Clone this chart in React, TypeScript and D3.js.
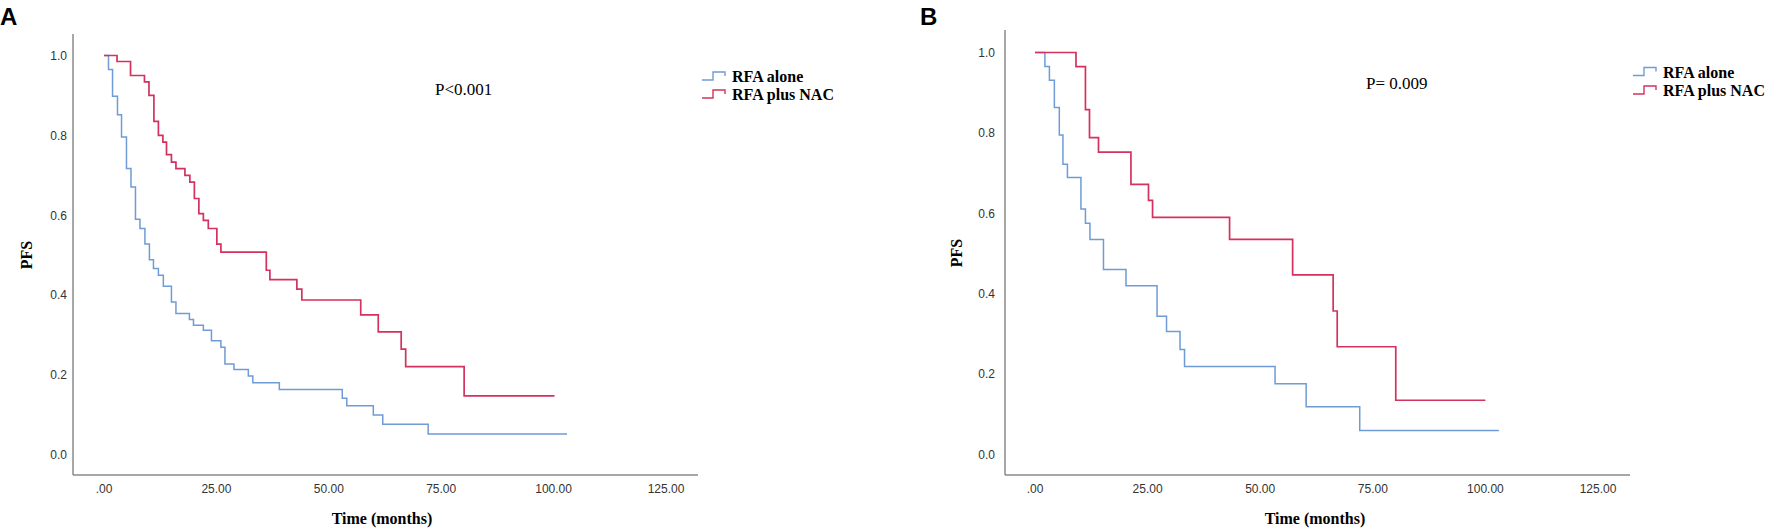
import React, { useEffect, useRef } from 'react';
import * as d3 from 'd3';

// Kaplan-Meier steps: drop times (months) and survival after each drop
const aAloneTimes = [1.0, 1.9, 3.0, 3.9, 5.0, 6.0, 7.0, 8.0, 9.1, 10.1, 11.0, 12.1, 13.2, 15.0, 16.0, 19.0, 19.9, 22.1, 23.9, 26.0, 26.9, 28.9, 32.1, 33.1, 39.0, 53.0, 54.0, 59.9, 62.0, 72.1];
const aAloneSurv = [0.965, 0.898, 0.852, 0.796, 0.717, 0.671, 0.59, 0.567, 0.528, 0.489, 0.467, 0.45, 0.4225, 0.383, 0.354, 0.339, 0.325, 0.3125, 0.286, 0.27, 0.2275, 0.214, 0.1975, 0.181, 0.164, 0.142, 0.123, 0.10, 0.077, 0.0525];
const aAloneEnd = 103;

const aNacTimes = [2.9, 5.9, 9.0, 10.0, 11.1, 12.1, 13.1, 13.9, 15.0, 16.0, 18.0, 19.1, 20.1, 21.1, 22.1, 23.2, 25.1, 26.0, 36.1, 36.9, 42.9, 44.0, 57.1, 61.0, 66.1, 67.1, 80.1];
const aNacSurv = [0.985, 0.95, 0.934, 0.90, 0.835, 0.80, 0.783, 0.752, 0.733, 0.717, 0.70, 0.683, 0.642, 0.604, 0.5875, 0.567, 0.528, 0.508, 0.4625, 0.439, 0.415, 0.388, 0.351, 0.308, 0.265, 0.221, 0.148];
const aNacEnd = 100.2;

const bAloneTimes = [2.2, 3.2, 4.3, 5.4, 6.2, 7.2, 10.2, 11.2, 12.2, 15.2, 20.2, 27.1, 29.2, 32.2, 33.2, 53.3, 60.2, 72.1];
const bAloneSurv = [0.965, 0.931, 0.863, 0.795, 0.722, 0.689, 0.611, 0.575, 0.535, 0.46, 0.42, 0.344, 0.306, 0.2615, 0.219, 0.176, 0.1185, 0.06];
const bAloneEnd = 103;

const bNacTimes = [9.1, 11.2, 12.1, 14.1, 21.3, 25.2, 26.1, 43.2, 57.2, 66.2, 67.1, 80.1];
const bNacSurv = [0.965, 0.858, 0.788, 0.752, 0.672, 0.632, 0.59, 0.535, 0.447, 0.357, 0.268, 0.135];
const bNacEnd = 100;

const xTicks = [0, 25, 50, 75, 100, 125];
const xTickLabels = ['.00', '25.00', '50.00', '75.00', '100.00', '125.00'];
const yTicks = [0, 0.2, 0.4, 0.6, 0.8, 1.0];
const yTickLabels = ['0.0', '0.2', '0.4', '0.6', '0.8', '1.0'];
const seriesNames = ['RFA alone', 'RFA plus NAC'];
const pLabels = ['P<0.001', 'P= 0.009'];
const panelLetters = ['A', 'B'];

const BLUE = '#6f9bd6';
const RED = '#d3325e';
const SERIF = '"Liberation Serif", "Times New Roman", serif';
const SANS = '"Liberation Sans", Arial, sans-serif';

const toSteps = (times: number[], surv: number[], end: number): [number, number][] => {
    const pts: [number, number][] = [[0, 1]];
    times.forEach((t, i) => pts.push([t, surv[i]]));
    pts.push([end, surv[surv.length - 1]]);
    return pts;
};

const panels = [
    {
        letter: panelLetters[0], p: pLabels[0],
        alone: toSteps(aAloneTimes, aAloneSurv, aAloneEnd),
        nac: toSteps(aNacTimes, aNacSurv, aNacEnd),
        axisX: 73, axisTop: 34, axisBottom: 475, axisRight: 698, letterX: 0,
        xRange: [104, 666], yRange: [455, 55.5], yLabelRight: 67,
        pX: 435, pY: 95, legX: 702, legY: [82, 100], pfsX: 27, pfsY: 255, titleX: 382,
    },
    {
        letter: panelLetters[1], p: pLabels[1],
        alone: toSteps(bAloneTimes, bAloneSurv, bAloneEnd),
        nac: toSteps(bNacTimes, bNacSurv, bNacEnd),
        axisX: 1005, axisTop: 30, axisBottom: 475, axisRight: 1630, letterX: 920,
        xRange: [1035, 1598], yRange: [454.5, 52.5], yLabelRight: 995,
        pX: 1366, pY: 89, legX: 1633, legY: [77.5, 96], pfsX: 957, pfsY: 253, titleX: 1315,
    },
];

const App: React.FC = () => {
    const svgRef = useRef<SVGSVGElement>(null);

    useEffect(() => {
        if (!svgRef.current) return;
        const svg = d3.select(svgRef.current);
        svg.selectAll('*').remove();

        panels.forEach(pn => {
            const g = svg.append('g');
            const x = d3.scaleLinear().domain([0, 125]).range(pn.xRange);
            const y = d3.scaleLinear().domain([0, 1]).range(pn.yRange);

            // panel letter
            g.append('text')
                .attr('x', pn.letterX)
                .attr('y', 25)
                .attr('font-family', SANS)
                .attr('font-weight', 'bold')
                .attr('font-size', 24)
                .text(pn.letter);

            // axes
            g.append('line')
                .attr('x1', pn.axisX).attr('x2', pn.axisX)
                .attr('y1', pn.axisTop).attr('y2', pn.axisBottom)
                .attr('stroke', '#8a8a8a').attr('stroke-width', 1.5);
            g.append('line')
                .attr('x1', pn.axisX).attr('x2', pn.axisRight)
                .attr('y1', pn.axisBottom).attr('y2', pn.axisBottom)
                .attr('stroke', '#8a8a8a').attr('stroke-width', 1.5);

            g.selectAll('text.yt')
                .data(yTicks)
                .join('text')
                .attr('class', 'yt')
                .attr('x', pn.yLabelRight)
                .attr('y', d => y(d))
                .attr('dy', '0.35em')
                .attr('text-anchor', 'end')
                .attr('font-family', SANS)
                .attr('font-size', 12)
                .attr('fill', '#333')
                .text((d, i) => yTickLabels[i]);

            g.selectAll('text.xt')
                .data(xTicks)
                .join('text')
                .attr('class', 'xt')
                .attr('x', d => x(d))
                .attr('y', 489)
                .attr('dy', '0.35em')
                .attr('text-anchor', 'middle')
                .attr('font-family', SANS)
                .attr('font-size', 12)
                .attr('fill', '#333')
                .text((d, i) => xTickLabels[i]);

            // axis titles
            g.append('text')
                .attr('x', pn.titleX)
                .attr('y', 524)
                .attr('text-anchor', 'middle')
                .attr('font-family', SERIF)
                .attr('font-weight', 'bold')
                .attr('font-size', 16)
                .text('Time (months)');
            g.append('text')
                .attr('transform', `translate(${pn.pfsX + 5},${pn.pfsY}) rotate(-90)`)
                .attr('text-anchor', 'middle')
                .attr('font-family', SERIF)
                .attr('font-weight', 'bold')
                .attr('font-size', 16)
                .text('PFS');

            // curves
            const line = d3.line<[number, number]>()
                .x(d => x(d[0]))
                .y(d => y(d[1]))
                .curve(d3.curveStepAfter);
            g.append('path').datum(pn.alone).attr('d', line)
                .attr('fill', 'none').attr('stroke', BLUE).attr('stroke-width', 1.5);
            g.append('path').datum(pn.nac).attr('d', line)
                .attr('fill', 'none').attr('stroke', RED).attr('stroke-width', 1.7);

            // p value
            g.append('text')
                .attr('x', pn.pX)
                .attr('y', pn.pY)
                .attr('font-family', SERIF)
                .attr('font-size', 17)
                .text(pn.p);

            // legend
            seriesNames.forEach((name, i) => {
                const ly = pn.legY[i];
                const cy = ly - 5;
                g.append('path')
                    .attr('d', `M${pn.legX},${cy + 3}H${pn.legX + 11}V${cy - 5}H${pn.legX + 23}V${cy - 1}`)
                    .attr('fill', 'none')
                    .attr('stroke', i === 0 ? BLUE : RED)
                    .attr('stroke-width', 1.4);
                g.append('text')
                    .attr('x', pn.legX + 30)
                    .attr('y', ly)
                    .attr('font-family', SERIF)
                    .attr('font-weight', 'bold')
                    .attr('font-size', 16)
                    .text(name);
            });
        });
    }, []);

    return (
        <svg
            ref={svgRef}
            width={1777}
            height={529}
            style={{ position: 'absolute', left: 0, top: 0, background: '#fff' }}
        />
    );
};

export default App;
